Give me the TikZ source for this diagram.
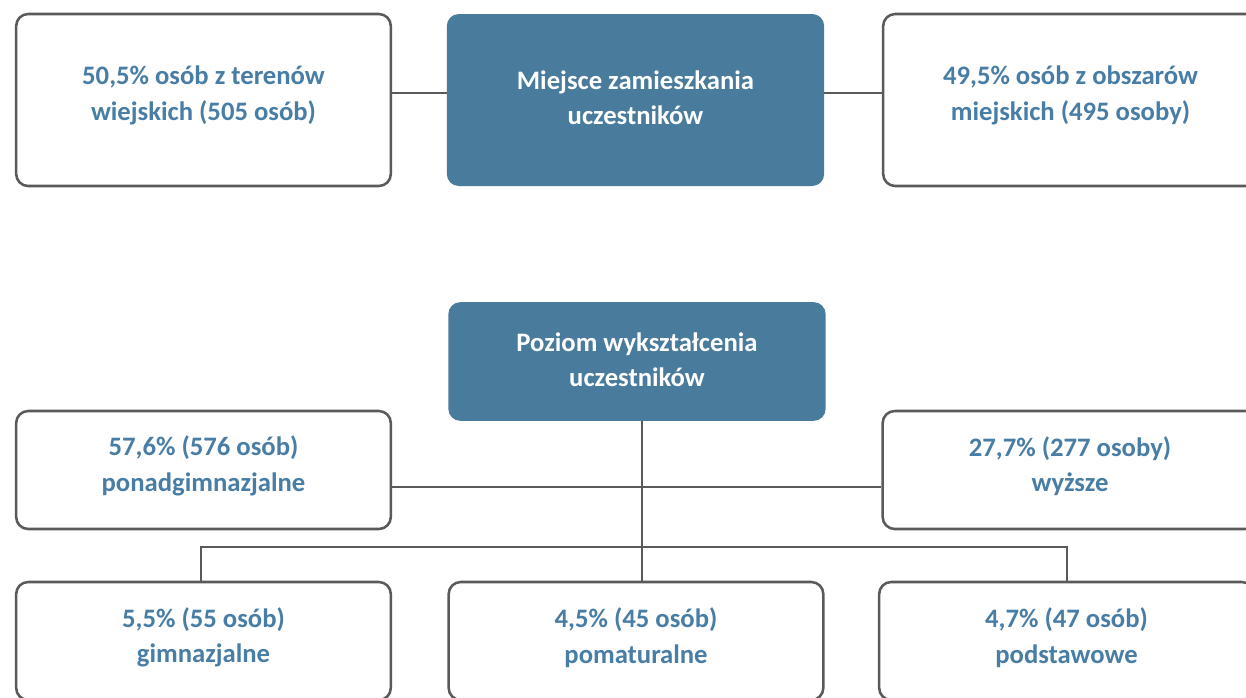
\documentclass[tikz,border=0pt]{standalone}
\usepackage{fontspec}
\setmainfont{Carlito}
\definecolor{boxblue}{RGB}{73,123,157}
\definecolor{txtblue}{RGB}{72,125,165}
\definecolor{linegray}{RGB}{90,90,90}
\tikzset{
  outbox/.style={draw=linegray, line width=1.9pt, rounded corners=9pt, fill=white, minimum width=281pt},
  headbox/.style={fill=boxblue, rounded corners=9pt, minimum width=283pt},
  boxtxt/.style={align=center, text=txtblue, font=\bfseries\fontsize{20}{26.5}\selectfont},
  headtxt/.style={align=center, text=white, font=\bfseries\fontsize{20}{26.5}\selectfont},
  conn/.style={linegray, line width=1.9pt}
}
\begin{document}
\begin{tikzpicture}[x=0.75pt, y=-0.75pt]
            \clip (0,0) rectangle (1246,697);
            % miejsce zamieszkania
            \node[headbox, minimum height=129pt] (tm) at (635.5,100) {};
            \node[outbox, minimum height=129pt] (tl) at (203.5,100) {};
            \node[outbox, minimum height=129pt] (tr) at (1070.5,100) {};
            \node[headtxt] (tmtext) at ([yshift=1.5pt]tm.center) {Miejsce zamieszkania\\uczestników};
            \node[boxtxt] (tltext) at ([yshift=3.5pt]tl.center) {50,5\% osób z terenów\\wiejskich (505 osób)};
            \node[boxtxt] (trtext) at ([yshift=3.5pt]tr.center) {49,5\% osób z obszarów\\miejskich (495 osoby)};
            \coordinate (toprow) at (0,93);
            \draw[conn] (tl.east |- toprow) -- (tm.west |- toprow);
            \draw[conn] (tm.east |- toprow) -- (tr.west |- toprow);
            % poziom wyksztalcenia
            \node[headbox, minimum height=89pt] (pz) at (637,361.5) {};
            \node[outbox, minimum height=88.5pt] (ml) at (203.5,470) {};
            \node[outbox, minimum height=88.5pt] (mr) at (1070,470) {};
            \node[outbox, minimum height=88.5pt] (bl) at (203.5,641) {};
            \node[outbox, minimum height=88.5pt] (bm) at (636,641) {};
            \node[outbox, minimum height=88.5pt] (br) at (1066.5,641) {};
            \node[headtxt] (pztext) at ([yshift=1.5pt]pz.center) {Poziom wykształcenia\\uczestników};
            \node[boxtxt] (mltext) at ([yshift=3pt]ml.center) {57,6\% (576 osób)\\ponadgimnazjalne};
            \node[boxtxt] (mrtext) at ([yshift=3pt]mr.center) {27,7\% (277 osoby)\\wyższe};
            \node[boxtxt] (bltext) at ([yshift=2.5pt]bl.center) {5,5\% (55 osób)\\gimnazjalne};
            \node[boxtxt] (bmtext) at ([yshift=2.5pt]bm.center) {4,5\% (45 osób)\\pomaturalne};
            \node[boxtxt] (brtext) at ([yshift=2.5pt]br.center) {4,7\% (47 osób)\\podstawowe};
            \coordinate (spine) at (642,0);
            \coordinate (midrow) at (0,487);
            \coordinate (busL) at (201,547);
            \coordinate (busR) at (1067,547);
            \draw[conn] (pz.south -| spine) -- (bm.north -| spine);
            \draw[conn] (ml.east |- midrow) -- (mr.west |- midrow);
            \draw[conn] (bl.north -| busL) |- (busR) -- (br.north -| busR);
        \end{tikzpicture}
\end{document}
